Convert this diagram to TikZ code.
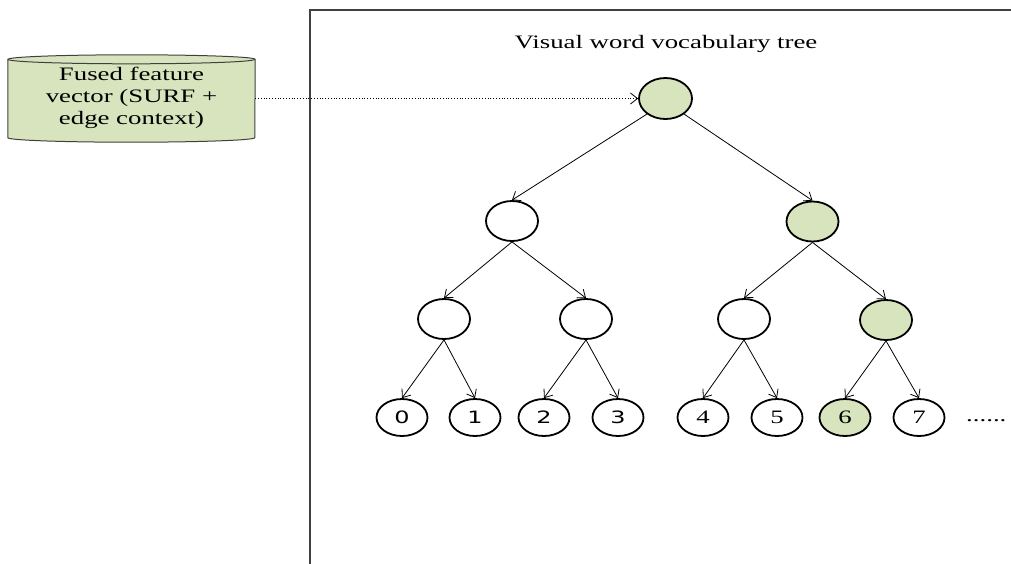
\documentclass[tikz,border=0pt]{standalone}
\usepackage{fontspec}
\usepackage{graphicx}
\setmainfont{Liberation Serif}
\newfontfamily\sansdigits{DejaVu Sans}
\usetikzlibrary{shapes.geometric,arrows.meta,backgrounds}
\definecolor{wordgreen}{HTML}{D7E4BD}
\providecommand{\widen}[1]{\scalebox{1.41}[1]{#1}}

\begin{document}
\begin{tikzpicture}[x=1pt,y=-1pt,
    every node/.style={font=\fontsize{19}{22}\selectfont},
    word/.style={ellipse,draw,line width=1.8pt,inner sep=0pt,minimum width=52pt,minimum height=40pt},
    leaf/.style={word,minimum width=51pt,minimum height=37pt},
    hit/.style={fill=wordgreen},
    branch/.style={-{Straight Barb[length=7pt,width=11pt]},line width=0.8pt},
    feed/.style={branch,dotted},
    tank/.style={draw=black!75,line width=1pt,fill=wordgreen}]
  \useasboundingbox (0,0) rectangle (1011,563);
  % frame of the tree panel
  \draw[black!75,line width=1.5pt] (1015,10) -- (310,10) -- (310,567);
  \node[anchor=base] (title) at (666,48) {\widen{Visual word vocabulary tree}};

  % feature vector store
  \node[inner sep=0pt,minimum width=247pt,minimum height=78pt] (vec) at (131.5,98.5)
    {\widen{\begin{tabular}{@{}c@{}}Fused feature\\vector (SURF +\\edge context)\end{tabular}}};
  \begin{scope}[on background layer]
    \draw[tank] (vec.north west) -- (vec.south west)
      arc[start angle=180,end angle=360,x radius=123.5pt,y radius=4.5pt]
      -- (vec.north east)
      arc[start angle=0,end angle=180,x radius=123.5pt,y radius=4.5pt] -- cycle;
    \draw[tank,fill=none] (vec.north west)
      arc[start angle=180,end angle=360,x radius=123.5pt,y radius=4.5pt];
  \end{scope}

  % tree
  \node[word,hit,minimum width=53pt,minimum height=41pt] (root) at (665.5,98.5) {};
  \node[word] (n0) at (512,221) {};
  \node[word,hit] (n1) at (812.5,221.5) {};
  \node[word] (n00) at (444,319) {};
  \node[word] (n01) at (586,319) {};
  \node[word] (n10) at (744,319) {};
  \node[word,hit] (n11) at (886,320) {};
  \node[leaf] (v0) at (402,417.5) {\widen{\sansdigits\fontsize{17}{20}\selectfont 0}};
  \node[leaf] (v1) at (475,417.5) {\widen{\sansdigits\fontsize{17}{20}\selectfont 1}};
  \node[leaf] (v2) at (544,417.5) {\widen{\sansdigits\fontsize{17}{20}\selectfont 2}};
  \node[leaf] (v3) at (618,417.5) {\widen{\sansdigits\fontsize{17}{20}\selectfont 3}};
  \node[leaf] (v4) at (703,417.5) {\widen{4}};
  \node[leaf] (v5) at (777,417.5) {\widen{5}};
  \node[leaf,hit] (v6) at (845,417.5) {\widen{6}};
  \node[leaf] (v7) at (919,417.5) {\widen{7}};
  \node[anchor=base west,inner sep=0pt] (more) at (966,421) {\widen{......}};

  \draw[feed] (vec) -- (root);
  \path[branch]
    (root.-140) edge (n0.north)
    (root.-40) edge (n1.north)
    (n0.south) edge (n00.north)
    (n0.south) edge (n01.north)
    (n1.south) edge (n10.north)
    (n1.south) edge (n11.north)
    (n00.south) edge (v0.north)
    (n00.south) edge (v1.north)
    (n01.south) edge (v2.north)
    (n01.south) edge (v3.north)
    (n10.south) edge (v4.north)
    (n10.south) edge (v5.north)
    (n11.south) edge (v6.north)
    (n11.south) edge (v7.north)
    ;
\end{tikzpicture}
\end{document}
